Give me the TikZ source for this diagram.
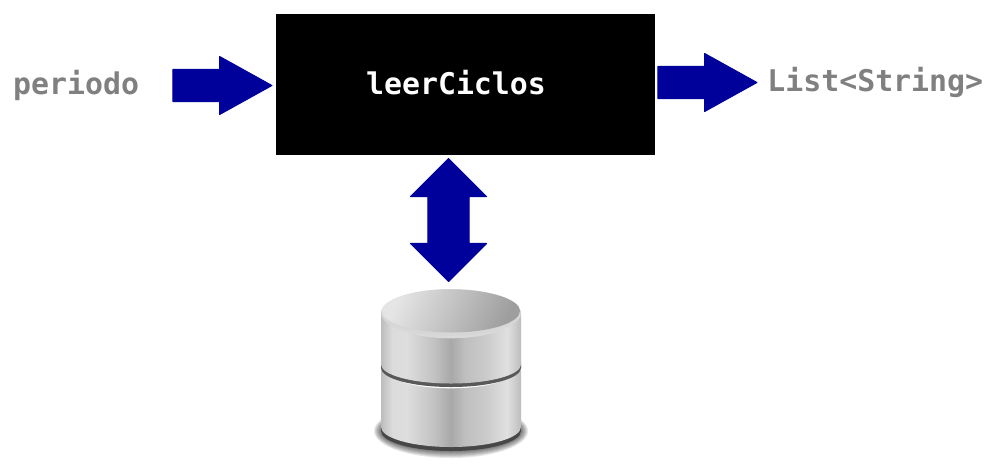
\documentclass[tikz,border=0pt]{standalone}
\usepackage{fontspec}
\setmonofont{DejaVu Sans Mono}
\usepackage{xcolor}
\usetikzlibrary{positioning,shapes.arrows}
\definecolor{cflow}{RGB}{0,0,155}
\definecolor{clabel}{RGB}{128,128,128}
\pgfdeclarehorizontalshading{dbside}{100bp}{
  color(0bp)=(black!26); color(25bp)=(black!26); color(29bp)=(black!14);
  color(34bp)=(black!13); color(44bp)=(black!24); color(50bp)=(black!34);
  color(55bp)=(black!25); color(62bp)=(black!21); color(70bp)=(black!12);
  color(75bp)=(black!26); color(100bp)=(black!26)}
\tikzset{
  funcbox/.style={rectangle,fill=black,draw=none,minimum width=7.58cm,minimum height=2.82cm},
  funclabel/.style={font=\ttfamily\bfseries\fontsize{17}{20}\selectfont,text=white,inner sep=0pt},
  iolabel/.style={font=\ttfamily\bfseries\fontsize{17}{20}\selectfont,text=clabel,inner sep=0pt},
  flowarrow/.style={single arrow,fill=cflow,draw=cflow,line join=round,line width=0.6pt,
    inner sep=0.31cm,minimum height=1.98cm,
    single arrow head extend=0.26cm,single arrow tip angle=58,single arrow head indent=0pt},
  dbarrow/.style={double arrow,fill=cflow,draw=cflow,line join=round,line width=0.6pt,
    inner sep=0.4cm,minimum height=2.46cm,shape border rotate=90,
    double arrow head extend=0.35cm,double arrow tip angle=90,double arrow head indent=0pt},
  dbsection/.style={shading=dbside,draw=none}
}
\begin{document}
\begin{tikzpicture}[x=0.02cm,y=-0.02cm]
  \useasboundingbox (0,0) rectangle (999,474);
  \node[funcbox] (func) at (465.5,84.5) {};
  \node[funclabel,xshift=-0.19cm,yshift=0.04cm] (nombre) at (func.center) {leerCiclos};
  \node[flowarrow,anchor=tip] (entrada) at (273,85.5) {};
  \node[flowarrow,anchor=tip] (salida) at (758,82.5) {};
  \node[dbarrow] (acceso) at (448.5,220) {};
  \node[iolabel,left=0.66cm of entrada.tail] (periodo) {periodo};
  \node[iolabel,right=0.18cm of salida.tip] (tipo) {List<String>};
  % database icon: shadow first, then the two sections from the bottom up
  \foreach \k in {0,...,11}
    \fill[black,opacity=0.09] (451,431) ellipse ({77-\k} and {27-\k});
  \fill[black!72] (381,425) -- (381,431) arc (180:0:70 and 20) -- (521,425) -- cycle;
  \path[dbsection] (381,360) -- (381,427) arc (180:0:70 and 20) -- (521,360) -- cycle;
  \draw[white,line width=1.2pt] (396,378) arc (155:25:60.5 and 16);
  \fill[black!65] (381,364) arc (180:0:70 and 19) -- (521,368) arc (0:180:70 and 19) -- cycle;
  \path[dbsection] (381,313) -- (381,364.5) arc (180:0:70 and 19) -- (521,313) -- cycle;
  \fill[black!16] (451,313) ellipse (70 and 24);
  \draw[white!85!black,line width=1.2pt] (396,327) arc (145:35:67 and 24);
  \shade[left color=black!10,right color=black!38,shading angle=65] (451,311) ellipse (69 and 21.5);
\end{tikzpicture}
\end{document}
